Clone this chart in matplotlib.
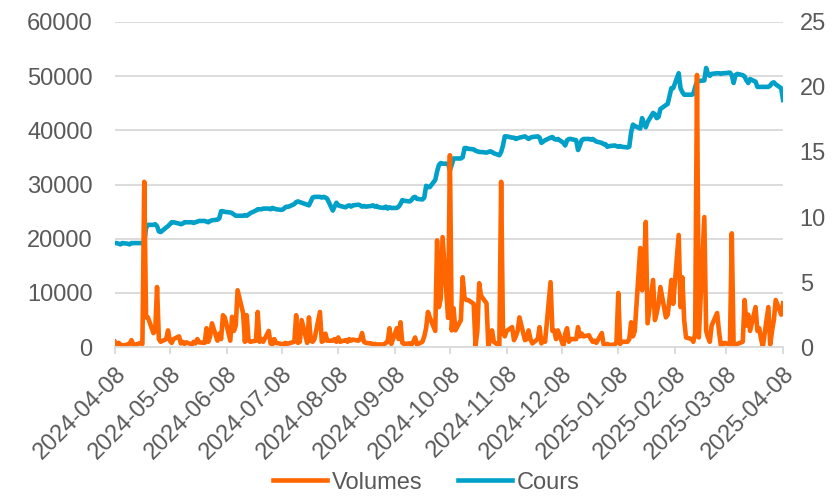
import matplotlib.pyplot as plt
import matplotlib.dates as mdates
import pandas as pd

plt.rcParams['font.family'] = ['Liberation Sans', 'DejaVu Sans']

# business days 2024-04-08 .. 2025-04-08
dates = pd.bdate_range("2024-04-08", "2025-04-08")

# daily volumes, one row per week (Mon..Fri)
volumes = [
    1000, 500, 800, 500, 300,
    500, 600, 1300, 500, 400,
    800, 600, 30500, 5500, 5500,
    2600, 3000, 11100, 1500, 1000,
    1500, 3100, 1200, 800, 1500,
    2000, 700, 1000, 600, 900,
    500, 1000, 700, 1500, 900,
    800, 3500, 1000, 2000, 4400,
    1200, 2500, 1500, 5900, 5500,
    1200, 5600, 3000, 4000, 10500,
    6300, 1000, 5900, 1200, 1000,
    1200, 6500, 1000, 1500, 1000,
    3000, 700, 500, 1500, 800,
    600, 500, 800, 600, 700,
    1000, 5900, 800, 1000, 5000,
    800, 5500, 1200, 1000, 1500,
    6500, 1000, 1200, 2500, 1200,
    1200, 1500, 1000, 1800, 1000,
    1300, 1000, 1500, 1200, 1400,
    1200, 1500, 2600, 1000, 800,
    700, 500, 600, 400, 500,
    500, 800, 1000, 3500, 600,
    3500, 1500, 4600, 800, 600,
    700, 500, 1000, 1800, 500,
    1000, 2000, 3500, 6500, 5500,
    3000, 19700, 7400, 9000, 20300,
    5400, 35400, 3100, 7200, 3100,
    5000, 12900, 9000, 8700, 8700,
    8000, 200, 3000, 11800, 9500,
    8100, 200, 1500, 3100, 1000,
    200, 30500, 2600, 2000, 3000,
    3700, 1300, 2000, 3000, 5500,
    1300, 1500, 3100, 1500, 700,
    1500, 3700, 700, 1500, 1000,
    12000, 3000, 3100, 1500, 3100,
    200, 2500, 3500, 1000, 1500,
    1500, 3700, 2000, 2500, 2000,
    2200, 1500, 1000, 1200, 800,
    2600, 500, 300, 600, 400,
    500, 800, 10000, 600, 1000,
    1000, 1500, 4600, 2000, 3000,
    18300, 10500, 14000, 23100, 4400,
    12400, 5000, 6300, 8000, 11100,
    5500, 6000, 9000, 12400, 8000,
    20700, 7400, 12900, 5000, 1800,
    1500, 1000, 2500, 50200, 1800,
    24000, 3000, 1800, 1000, 4000,
    6300, 3000, 400, 500, 800,
    500, 21000, 500, 400, 600,
    1000, 8700, 4000, 6000, 3000,
    7400, 3000, 3500, 1500, 200,
    7400, 500, 3000, 5000, 8700,
    6000, 8100,
]

# daily share price
cours = [
    8.0, 8.0, 7.95, 7.9, 8.0,
    7.95, 7.9, 8.0, 8.0, 8.0,
    8.0, 8.0, 8.05, 9.15, 9.4,
    9.4, 9.45, 9.3, 8.9, 8.85,
    9.2, 9.3, 9.45, 9.6, 9.6,
    9.5, 9.45, 9.5, 9.6, 9.6,
    9.6, 9.55, 9.6, 9.65, 9.7,
    9.7, 9.65, 9.6, 9.7, 9.75,
    9.8, 9.9, 10.45, 10.45, 10.4,
    10.35, 10.3, 10.2, 10.1, 10.1,
    10.1, 10.15, 10.1, 10.2, 10.3,
    10.5, 10.6, 10.6, 10.6, 10.65,
    10.65, 10.6, 10.7, 10.65, 10.6,
    10.55, 10.6, 10.75, 10.8, 10.8,
    11.0, 11.15, 11.2, 11.15, 11.1,
    10.95, 10.9, 11.2, 11.5, 11.55,
    11.55, 11.5, 11.55, 11.5, 11.4,
    10.5, 10.8, 11.1, 10.9, 10.85,
    10.75, 10.85, 10.9, 10.8, 10.9,
    10.95, 10.9, 10.8, 10.85, 10.8,
    10.85, 10.9, 10.8, 10.85, 10.75,
    10.7, 10.8, 10.65, 10.75, 10.7,
    10.7, 10.8, 11.0, 11.3, 11.25,
    11.2, 11.3, 11.5, 11.55, 11.4,
    11.35, 11.5, 12.4, 12.3, 12.3,
    12.85, 13.5, 14.0, 14.15, 14.1,
    14.1, 13.6, 14.0, 14.5, 14.5,
    14.5, 14.6, 15.3, 15.3, 15.25,
    15.2, 15.1, 15.05, 15.0, 15.0,
    14.95, 15.0, 15.05, 15.0, 14.9,
    14.75, 15.0, 15.5, 16.2, 16.2,
    16.1, 16.1, 16.0, 16.05, 16.1,
    16.2, 16.1, 16.0, 16.1, 16.15,
    16.2, 16.1, 15.7, 15.8, 15.9,
    16.1, 16.15, 16.0, 15.95, 16.0,
    15.7, 15.5, 15.9, 16.0, 16.0,
    15.9, 15.15, 15.5, 15.9, 16.0,
    16.0, 15.95, 16.0, 15.9, 15.8,
    15.7, 15.6, 15.6, 15.4, 15.45,
    15.5, 15.45, 15.4, 15.45, 15.4,
    15.35, 15.4, 16.5, 17.1, 17.0,
    16.8, 17.6, 17.2, 16.9, 17.3,
    18.0, 17.9, 17.6, 17.7, 18.3,
    18.6, 18.7, 19.3, 19.9, 19.9,
    21.05, 19.9, 19.6, 19.4, 19.4,
    19.4, 19.45, 20.0, 20.4, 20.45,
    20.5, 21.45, 21.0, 20.85, 21.0,
    21.05, 21.05, 21.0, 21.05, 21.05,
    21.1, 20.9, 20.3, 20.9, 21.0,
    20.9, 20.8, 20.5, 20.3, 20.6,
    20.4, 20.0, 20.0, 20.0, 20.0,
    20.0, 20.1, 20.3, 20.35, 20.2,
    19.9, 19.0,
]

vol_ticks = [0, 10000, 20000, 30000, 40000, 50000, 60000]
cours_ticks = [0, 5, 10, 15, 20, 25]
tick_dates = pd.date_range("2024-04-08", periods=13, freq=pd.DateOffset(months=1))

orange = "#FF6600"
blue = "#00A0C8"
grey = "#595959"
fs = 17

fig, ax = plt.subplots(figsize=(8.33, 4.96), dpi=100)
fig.subplots_adjust(left=0.138, right=0.940, top=0.956, bottom=0.300)
ax2 = ax.twinx()

# blue below, orange on top
ax.set_zorder(ax2.get_zorder() + 1)
ax.patch.set_visible(False)

# gridlines behind everything (drawn on the lower axes)
for t in vol_ticks[1:]:
    ax2.axhline(t * 25 / 60000, color="#D9D9D9", lw=1.3, zorder=0)

ax2.plot(dates, cours, color=blue, lw=3.3, solid_joinstyle="round", label="Cours")
ax.plot(dates, volumes, color=orange, lw=3.3, solid_joinstyle="round", label="Volumes")

ax.set_ylim(0, 60000)
ax2.set_ylim(0, 25)
ax.set_yticks(vol_ticks)
ax2.set_yticks(cours_ticks)
ax.set_xlim(tick_dates[0], tick_dates[-1])
ax.set_xticks(tick_dates)
ax.xaxis.set_major_formatter(mdates.DateFormatter("%Y-%m-%d"))

for a in (ax, ax2):
    for s in a.spines.values():
        s.set_visible(False)
    a.tick_params(axis="y", length=0, labelsize=fs, labelcolor=grey)
ax.tick_params(axis="y", pad=16)
ax2.tick_params(axis="y", pad=12)
ax.spines["bottom"].set_visible(True)
ax.spines["bottom"].set_color("#D9D9D9")
ax.spines["bottom"].set_linewidth(1.3)
ax.tick_params(axis="x", length=5, color="#D9D9D9", width=1.3, labelsize=fs,
               labelcolor=grey, pad=6)
for lab in ax.get_xticklabels():
    lab.set_rotation(45)
    lab.set_ha("right")
    lab.set_rotation_mode("anchor")

h1, l1 = ax.get_legend_handles_labels()
h2, l2 = ax2.get_legend_handles_labels()
fig.legend(h1 + h2, l1 + l2, loc="center", bbox_to_anchor=(0.512, 0.027),
           ncol=2, frameon=False, fontsize=fs, labelcolor=grey,
           handlelength=2.3, handletextpad=0.2, columnspacing=1.5,
           borderaxespad=0, borderpad=0.1)

fig.savefig("out.png", dpi=100)
